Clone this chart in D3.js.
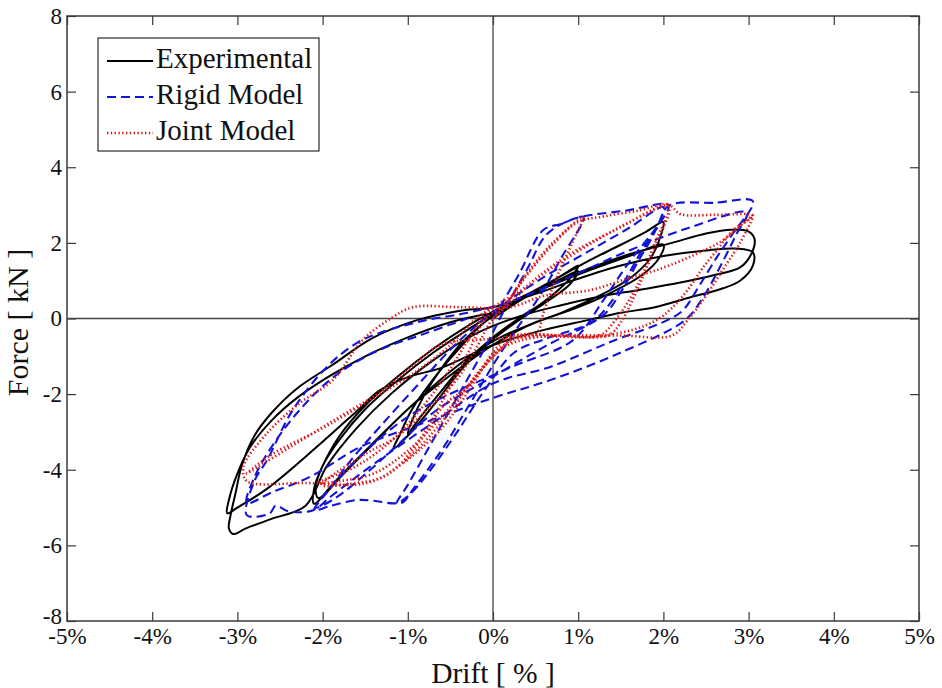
<!DOCTYPE html>
<html>
<head>
<meta charset="utf-8">
<script src="https://cdn.jsdelivr.net/npm/d3@7"></script>
<style>
  html, body { margin: 0; padding: 0; background: #fff; }
  svg { display: block; font-family: "Liberation Serif", "Times New Roman", serif; }
  svg text { font-family: "Liberation Serif", "Times New Roman", serif; }
</style>
</head>
<body>
<svg id="chart" width="942" height="688"></svg>
<script>
// Axis ticks
const xTicks = [-5, -4, -3, -2, -1, 0, 1, 2, 3, 4, 5];
const yTicks = [-8, -6, -4, -2, 0, 2, 4, 6, 8];
const seriesNames = ["Experimental", "Rigid Model", "Joint Model"];

// Hysteresis paths, [drift %, force kN], in loading order
const experimental = [
  [0,0],[0.3,0.45],[0.6,0.85],[0.85,1.2],[1.0,1.4],
  [0.9,1.05],[0.6,0.45],[0.3,0.0],[0.0,-0.5],[-0.3,-1.1],[-0.6,-1.9],[-0.85,-2.6],[-1.0,-3.05],
  [-0.95,-2.7],[-0.8,-2.0],[-0.6,-1.3],[-0.35,-0.6],[-0.1,-0.1],[0.2,0.35],[0.5,0.75],[0.8,1.05],[1.0,1.25],
  [0.9,0.9],[0.6,0.4],[0.3,-0.05],[0.0,-0.55],[-0.35,-1.3],[-0.7,-2.3],[-1.0,-3.1],[-1.17,-3.45],
  [-1.1,-3.1],[-0.95,-2.4],[-0.7,-1.6],[-0.4,-0.8],[-0.1,-0.1],
  [0.3,0.5],[0.7,1.0],[1.1,1.5],[1.5,1.95],[1.8,2.3],[2.0,2.55],
  [1.97,2.2],[1.85,1.6],[1.6,1.05],[1.2,0.55],[0.8,0.15],[0.4,-0.2],[0.0,-0.7],[-0.5,-1.5],[-1.0,-2.4],[-1.4,-3.3],[-1.75,-4.1],[-2.05,-4.75],
  [-2.08,-4.45],[-2.0,-3.9],[-1.8,-3.2],[-1.5,-2.4],[-1.1,-1.6],[-0.7,-0.9],[-0.3,-0.3],[0.1,0.25],[0.6,0.8],[1.1,1.25],[1.6,1.65],[2.0,1.95],
  [1.95,1.6],[1.75,1.15],[1.4,0.7],[1.0,0.3],[0.5,-0.1],[0.0,-0.6],[-0.5,-1.4],[-1.0,-2.4],[-1.5,-3.5],[-1.85,-4.3],[-2.1,-4.9],
  [-2.1,-4.5],[-2.0,-3.9],[-1.8,-3.1],[-1.5,-2.3],[-1.1,-1.5],[-0.7,-0.8],[-0.3,-0.2],[0.1,0.3],
  [0.6,0.85],[1.1,1.3],[1.6,1.7],[2.1,2.0],[2.5,2.25],[2.8,2.35],[3.0,2.3],[3.07,2.1],
  [3.03,1.7],[2.9,1.35],[2.6,1.15],[2.2,0.95],[1.7,0.75],[1.3,0.6],[0.8,0.35],[0.3,0.05],[-0.2,-0.4],
  [-0.7,-1.1],[-1.2,-2.0],[-1.6,-2.9],[-1.95,-3.9],[-2.2,-4.95],[-2.6,-5.3],[-2.9,-5.55],[-3.05,-5.7],
  [-3.1,-5.55],[-3.08,-5.2],[-3.02,-4.6],[-2.95,-3.9],[-2.8,-3.1],[-2.6,-2.5],[-2.3,-1.85],[-1.9,-1.25],[-1.4,-0.5],[-0.9,-0.05],[-0.4,0.2],[0.0,0.3],
  [0.5,0.65],[1.0,1.05],[1.5,1.4],[2.0,1.65],[2.5,1.8],[2.85,1.85],[3.05,1.75],
  [3.05,1.4],[2.9,1.0],[2.7,0.8],[2.3,0.55],[1.9,0.3],[1.5,0.15],[1.1,-0.05],[0.6,-0.3],[0.0,-0.7],[-0.6,-1.3],
  [-1.0,-1.55],[-1.33,-1.9],[-1.6,-2.45],[-2.07,-3.4],[-2.65,-4.5],[-3.0,-5.0],[-3.12,-5.15],
  [-3.1,-4.8],[-3.0,-4.1],[-2.85,-3.4],[-2.6,-2.7],[-2.3,-2.1],[-1.9,-1.5],[-1.5,-1.0],[-1.0,-0.5],[-0.5,-0.1],[0.0,0.15]
];

const rigidModel = [
  [0,0],[0.3,1.15],[0.59,2.34],[0.8,2.5],[1.06,2.68],
  [0.8,1.6],[0.55,0.6],[0.3,-0.2],[0.05,-1.05],[-0.15,-1.8],[-0.35,-2.55],[-0.55,-3.3],[-0.75,-3.95],[-0.95,-4.55],[-1.05,-4.85],[-1.13,-4.9],
  [-1.0,-4.4],[-0.7,-3.2],[-0.4,-2.0],[-0.1,-0.8],[0.15,0.3],[0.4,1.3],[0.62,2.2],[0.85,2.55],[1.06,2.7],
  [1.55,2.85],[2.06,3.0],
  [1.96,2.52],[1.73,1.73],[1.53,0.94],[1.34,0.3],[1.14,-0.12],[0.6,-0.55],[0.25,-0.9],[-0.1,-1.9],[-0.45,-3.1],[-0.8,-4.2],[-1.0,-4.7],[-1.13,-4.88],[-1.4,-4.82],[-1.6,-4.8],[-1.9,-4.95],[-2.1,-5.07],
  [-1.95,-4.6],[-1.65,-3.7],[-1.33,-2.87],[-0.9,-1.8],[-0.4,-0.6],[0.08,0.3],[0.6,1.1],[1.1,1.75],[1.6,2.4],[2.0,2.95],
  [1.9,2.3],[1.7,1.5],[1.5,0.7],[1.3,0.1],[0.6,-0.75],[-0.07,-1.63],[-0.66,-2.42],[-1.1,-3.3],[-1.44,-4.0],[-1.85,-4.75],[-2.08,-5.0],
  [-1.8,-4.2],[-1.0,-2.6],[0.2,-1.3],[0.94,-0.57],[1.3,0.5],[1.6,1.5],[1.92,2.42],[2.06,2.98],
  [2.6,3.06],[3.05,3.1],
  [2.8,2.2],[2.63,1.63],[2.43,0.9],[2.23,0.22],[2.04,-0.05],[1.4,-0.6],[0.67,-1.28],[0.0,-1.72],[-0.7,-2.75],[-1.4,-3.85],[-1.9,-4.7],[-2.11,-5.07],[-2.4,-5.1],[-2.55,-4.95],[-2.62,-5.15],[-2.89,-5.2],
  [-2.8,-4.3],[-2.65,-3.74],[-2.35,-2.42],[-1.95,-1.28],[-1.6,-0.65],[-1.33,-0.38],[-0.8,-0.05],[-0.3,0.15],[0.2,0.45],[0.9,1.1],[1.6,1.8],[2.3,2.4],[2.98,2.8],
  [2.85,2.2],[2.65,1.3],[2.45,0.5],[2.25,-0.05],[1.5,-0.9],[0.67,-1.63],[0.0,-2.1],[-0.8,-2.75],[-1.56,-3.4],[-2.15,-4.19],[-2.6,-4.6],[-2.89,-4.88],
  [-2.8,-4.2],[-2.6,-3.4],[-2.3,-2.5],[-1.9,-1.6],[-1.4,-0.9],[-0.8,-0.4],[-0.3,0.0]
];

const jointModel = [
  [0,0],[0.15,0.35],[0.4,1.2],[0.7,2.0],[1.06,2.68],
  [0.95,2.1],[0.75,1.1],[0.6,0.2],[0.5,-0.42],[0.2,-0.45],[0.0,-0.9],[-0.2,-1.6],[-0.4,-2.3],[-0.6,-2.9],[-0.85,-3.45],[-1.05,-3.8],
  [-0.8,-3.0],[-0.55,-2.0],[-0.3,-0.95],[-0.1,-0.05],[0.15,0.4],[0.4,1.15],[0.7,1.95],[1.0,2.55],
  [1.3,2.7],[1.7,2.85],[2.06,3.0],
  [1.9,2.0],[1.7,0.9],[1.45,0.0],[1.25,-0.45],[0.8,-0.45],[0.4,-0.45],[0.1,-0.75],[-0.2,-1.5],[-0.45,-2.3],[-0.7,-3.0],[-1.0,-3.7],[-1.3,-4.2],[-1.6,-4.35],[-2.0,-4.4],
  [-1.48,-3.56],[-1.13,-3.13],[-0.74,-2.34],[-0.42,-1.6],[-0.2,-0.8],[0.0,0.0],[0.2,0.4],[0.5,1.05],[0.9,1.7],[1.4,2.3],[2.06,2.95],
  [1.9,1.9],[1.7,0.8],[1.5,-0.1],[1.35,-0.45],[0.8,-0.45],[0.3,-0.45],[0.05,-0.9],[-0.3,-1.8],[-0.6,-2.6],[-1.0,-3.5],[-1.4,-4.1],[-1.8,-4.3],[-2.05,-4.35],
  [-1.6,-3.9],[-1.2,-3.25],[-0.85,-2.4],[-0.55,-1.5],[-0.3,-0.6],[-0.05,0.2],[0.3,0.7],[0.7,1.35],[1.2,2.05],[1.6,2.55],[2.06,3.0],
  [2.2,2.76],[2.6,2.74],[3.05,2.72],
  [2.82,2.34],[2.63,1.81],[2.45,1.3],[2.31,0.83],[2.11,0.3],[1.92,-0.04],[1.64,-0.3],[1.14,-0.49],[0.5,-0.5],[0.1,-0.8],[-0.3,-1.8],[-0.59,-2.33],[-0.82,-3.13],[-1.13,-3.93],[-1.48,-4.35],[-2.2,-4.35],[-2.89,-4.3],
  [-2.93,-3.93],[-2.65,-3.03],[-2.27,-2.24],[-1.88,-1.63],[-1.53,-0.57],[-1.2,0.0],[-0.94,0.3],[-0.4,0.3],[0.2,0.3],[0.6,0.6],[1.14,0.75],[1.53,1.02],[1.92,1.28],[2.31,1.63],[2.7,2.07],[2.98,2.6],[3.05,2.72],
  [2.9,2.0],[2.7,1.3],[2.5,0.6],[2.3,0.0],[2.1,-0.45],[1.5,-0.45],[0.8,-0.45],[0.3,-0.5],[-0.1,-0.55],[-0.62,-0.7],
  [-0.94,-1.25],[-1.33,-1.95],[-1.8,-2.6],[-2.38,-3.4],[-2.89,-4.1],
  [-2.6,-3.6],[-2.0,-2.9],[-1.4,-2.1],[-0.9,-1.4],[-0.5,-0.7],[-0.2,0.0],[0.0,0.3]
];

const W = 942, H = 688;
const margin = { left: 67, right: 23, top: 16, bottom: 67 };
const svg = d3.select("#chart");
const serifStack = '"Liberation Serif", "Times New Roman", serif';

const x = d3.scaleLinear().domain([-5, 5]).range([margin.left, W - margin.right]);
const y = d3.scaleLinear().domain([-8, 8]).range([H - margin.bottom, margin.top]);

const frameColor = "#3a3a3a";
const tickFont = 23;

// Axes with inward ticks
const gx = svg.append("g").attr("transform", `translate(0,${y(-8)})`)
  .call(d3.axisBottom(x).tickValues(xTicks).tickSizeInner(-9).tickSizeOuter(0).tickPadding(7)
    .tickFormat(d => d + "%"));
const gy = svg.append("g").attr("transform", `translate(${x(-5)},0)`)
  .call(d3.axisLeft(y).tickValues(yTicks).tickSizeInner(-9).tickSizeOuter(0).tickPadding(5)
    .tickFormat(d => String(d)));
const gt = svg.append("g").attr("transform", `translate(0,${y(8)})`)
  .call(d3.axisTop(x).tickValues(xTicks).tickSizeInner(-9).tickSizeOuter(0).tickFormat(""));
const gr = svg.append("g").attr("transform", `translate(${x(5)},0)`)
  .call(d3.axisRight(y).tickValues(yTicks).tickSizeInner(-9).tickSizeOuter(0).tickFormat(""));

[gx, gy, gt, gr].forEach(g => {
  g.attr("font-family", serifStack).attr("font-size", tickFont);
  g.select(".domain").remove();
  g.selectAll(".tick line").attr("stroke", frameColor).attr("stroke-width", 1.2);
  g.selectAll(".tick text").attr("fill", "#111")
    .attr("font-family", serifStack).attr("font-size", tickFont);
});
// the lowest force label sits just above the drift labels
gy.selectAll(".tick text").filter(d => d === -8).attr("dy", "0.12em");

// Zero reference lines
svg.append("line").attr("x1", x(-5)).attr("x2", x(5)).attr("y1", y(0)).attr("y2", y(0))
  .attr("stroke", "#444").attr("stroke-width", 1.3);
svg.append("line").attr("x1", x(0)).attr("x2", x(0)).attr("y1", y(-8)).attr("y2", y(8))
  .attr("stroke", "#444").attr("stroke-width", 1.3);

// Plot frame
svg.append("rect").attr("x", x(-5)).attr("y", y(8))
  .attr("width", x(5) - x(-5)).attr("height", y(-8) - y(8))
  .attr("fill", "none").attr("stroke", frameColor).attr("stroke-width", 1.5);

// Series
const line = d3.line().x(d => x(d[0])).y(d => y(d[1])).curve(d3.curveCatmullRom.alpha(0.5));
const styles = [
  { data: experimental, stroke: "#000000", width: 2, dash: null },
  { data: rigidModel, stroke: "#1414d8", width: 2.1, dash: "9,5" },
  { data: jointModel, stroke: "#dd1a1a", width: 2.6, dash: "1.4,2.4" }
];
styles.forEach(s => {
  svg.append("path").datum(s.data).attr("d", line)
    .attr("fill", "none").attr("stroke", s.stroke).attr("stroke-width", s.width)
    .attr("stroke-linejoin", "round")
    .attr("stroke-dasharray", s.dash);
});

// Legend
const lg = svg.append("g");
lg.append("rect").attr("x", 98).attr("y", 38).attr("width", 221).attr("height", 113)
  .attr("fill", "#fff").attr("stroke", "#000").attr("stroke-width", 1);
seriesNames.forEach((name, i) => {
  const yy = 61 + i * 36;
  lg.append("line").attr("x1", 107).attr("x2", 153).attr("y1", yy).attr("y2", yy)
    .attr("stroke", styles[i].stroke).attr("stroke-width", styles[i].width)
    .attr("stroke-dasharray", styles[i].dash);
  lg.append("text").attr("x", 156).attr("y", yy + 7).attr("font-size", 29).attr("fill", "#111")
    .attr("font-family", serifStack).text(name);
});

// Axis titles
svg.append("text").attr("x", x(0)).attr("y", 683).attr("text-anchor", "middle")
  .attr("font-size", 29.5).attr("font-family", serifStack).attr("fill", "#111").text("Drift [ % ]");
svg.append("text").attr("transform", `translate(28,${y(0) + 4}) rotate(-90)`)
  .attr("text-anchor", "middle").attr("font-size", 30).attr("font-family", serifStack)
  .attr("fill", "#111").text("Force [ kN ]");
</script>
</body>
</html>
